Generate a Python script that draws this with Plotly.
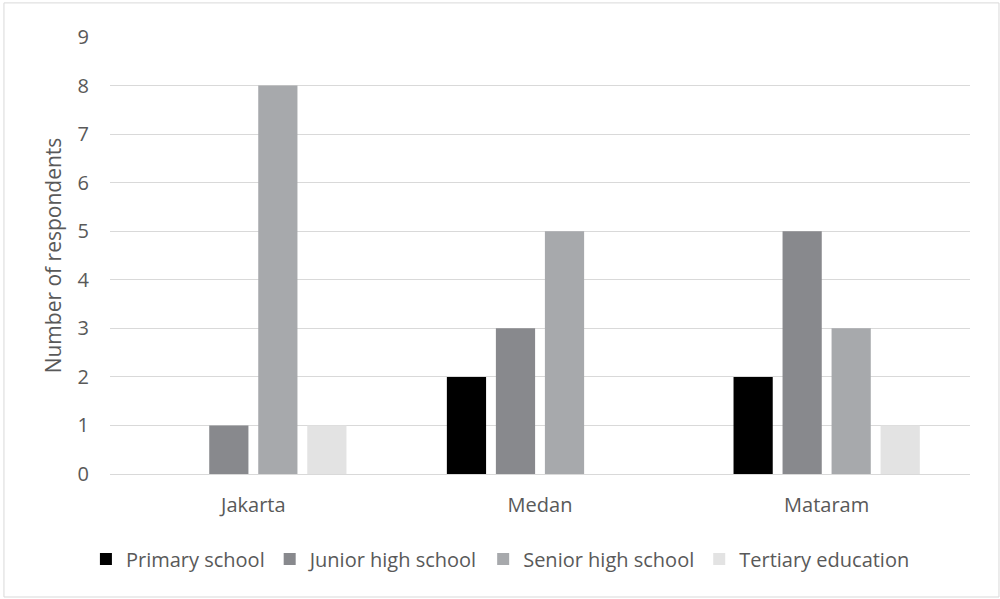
import plotly.graph_objects as go

cities = ["Jakarta", "Medan", "Mataram"]
primary = [0, 2, 2]
junior = [1, 3, 5]
senior = [8, 5, 3]
tertiary = [1, 0, 1]
series_names = ["Primary school", "Junior high school", "Senior high school", "Tertiary education"]
colors = ["#000000", "#88898d", "#a7a9ac", "#e3e3e3"]
yticks = list(range(0, 10))

fig = go.Figure()
for name, vals, c in zip(series_names, [primary, junior, senior, tertiary], colors):
    fig.add_trace(go.Bar(name=name, x=cities, y=vals, marker=dict(color=c, line=dict(width=0))))

fig.update_layout(
    width=1000, height=599,
    barmode="group", bargap=0.316, bargroupgap=0.2,
    paper_bgcolor="white", plot_bgcolor="white",
    margin=dict(l=110, r=30, t=37, b=125),
    font=dict(family="Open Sans, Lato, sans-serif", size=20, color="#595959"),
    showlegend=True,
    legend=dict(orientation="h", x=-0.028, xanchor="left", y=-0.15, yanchor="top",
                font=dict(size=20, color="#595959"), itemwidth=30, traceorder="normal"),
    shapes=[dict(type="rect", xref="paper", yref="paper", x0=-0.1233, x1=1.0337, y0=-0.2815, y1=1.078,
                 line=dict(color="#d9d9d9", width=1))],
)
fig.update_xaxes(showgrid=False, showline=False, ticks="", ticklabelstandoff=17,
                 tickfont=dict(size=20, color="#595959"))
fig.update_yaxes(range=[0, 9], tickvals=yticks, showgrid=True, gridcolor="#d9d9d9", gridwidth=1,
                 zeroline=True, zerolinecolor="#d9d9d9", zerolinewidth=1, showline=False, ticks="",
                 ticklabelstandoff=20,
                 title=dict(text="Number of respondents", font=dict(size=21, color="#595959"), standoff=10),
                 tickfont=dict(size=20, color="#595959"))

fig.write_html("out.html")
